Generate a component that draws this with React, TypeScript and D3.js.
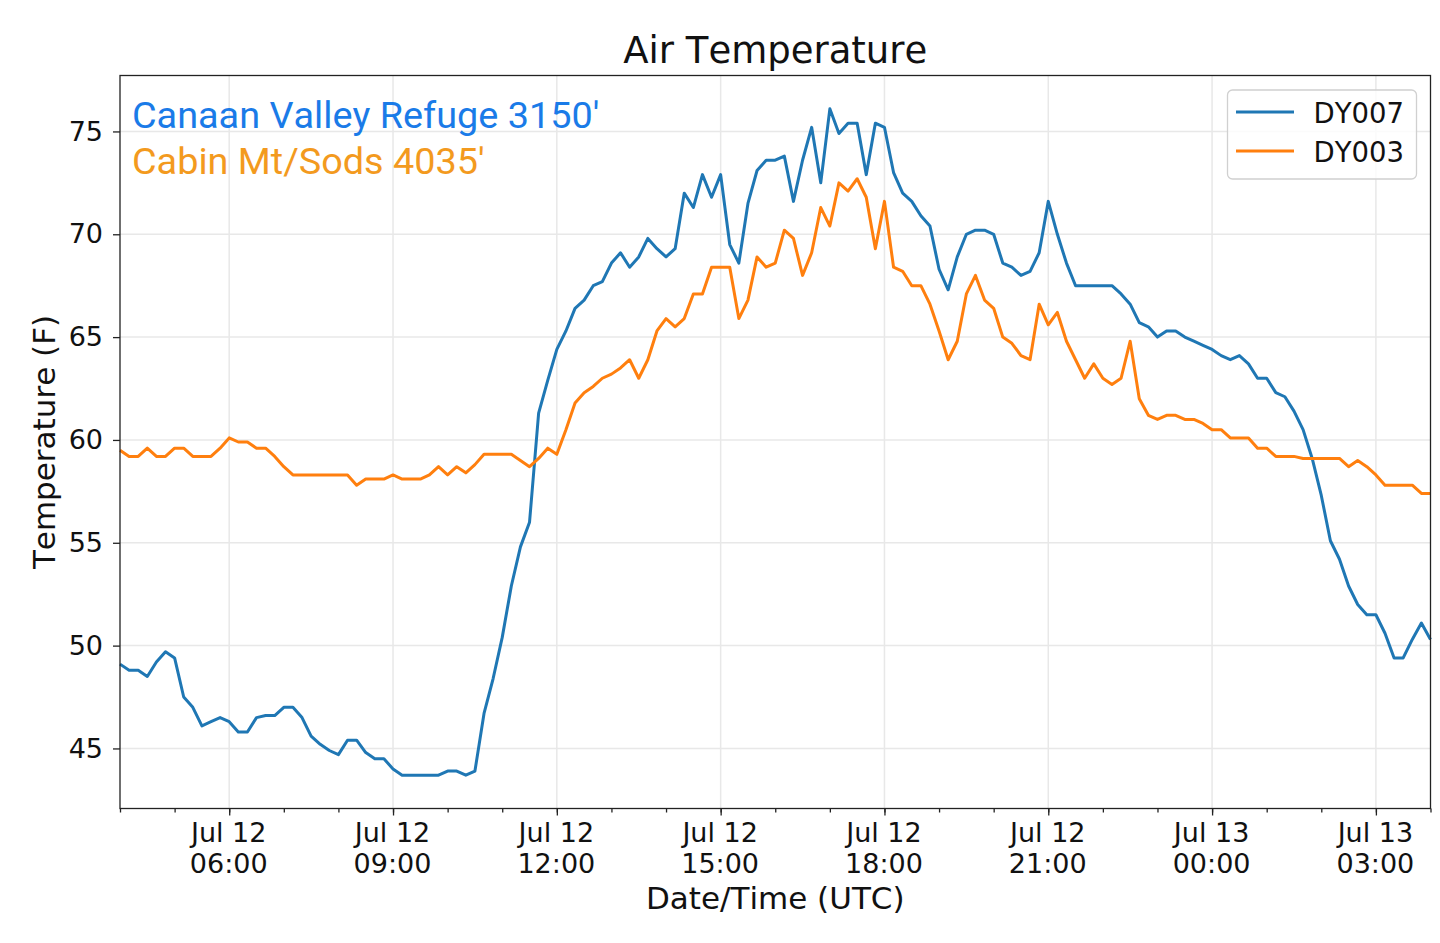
import * as d3 from 'd3';
import { useEffect, useRef } from 'react';

// readings every 10 minutes, starting Jul 12 04:00 UTC
const startTime = Date.UTC(2019, 6, 12, 4, 0);
const stepMinutes = 10;

const dy007 = [
    49.1, 48.8, 48.8, 48.5, 49.2, 49.7, 49.4, 47.5, 47.0, 46.1,
    46.3, 46.5, 46.3, 45.8, 45.8, 46.5, 46.6, 46.6, 47.0, 47.0,
    46.5, 45.6, 45.2, 44.9, 44.7, 45.4, 45.4, 44.8, 44.5, 44.5,
    44.0, 43.7, 43.7, 43.7, 43.7, 43.7, 43.9, 43.9, 43.7, 43.9,
    46.7, 48.4, 50.4, 52.9, 54.8, 56.0, 61.3, 62.9, 64.4, 65.3,
    66.4, 66.8, 67.5, 67.7, 68.6, 69.1, 68.4, 68.9, 69.8, 69.3,
    68.9, 69.3, 72.0, 71.3, 72.9, 71.8, 72.9, 69.5, 68.6, 71.5,
    73.1, 73.6, 73.6, 73.8, 71.6, 73.6, 75.2, 72.5, 76.1, 74.9,
    75.4, 75.4, 72.9, 75.4, 75.2, 73.0, 72.0, 71.6, 70.9, 70.4,
    68.3, 67.3, 68.9, 70.0, 70.2, 70.2, 70.0, 68.6, 68.4, 68.0,
    68.2, 69.1, 71.6, 70.0, 68.6, 67.5, 67.5, 67.5, 67.5, 67.5,
    67.1, 66.6, 65.7, 65.5, 65.0, 65.3, 65.3, 65.0, 64.8, 64.6,
    64.4, 64.1, 63.9, 64.1, 63.7, 63.0, 63.0, 62.3, 62.1, 61.4,
    60.5, 59.1, 57.3, 55.1, 54.2, 52.9, 52.0, 51.5, 51.5, 50.6,
    49.4, 49.4, 50.3, 51.1, 50.3,
];

const dy003 = [
    59.5, 59.2, 59.2, 59.6, 59.2, 59.2, 59.6, 59.6, 59.2, 59.2,
    59.2, 59.6, 60.1, 59.9, 59.9, 59.6, 59.6, 59.2, 58.7, 58.3,
    58.3, 58.3, 58.3, 58.3, 58.3, 58.3, 57.8, 58.1, 58.1, 58.1,
    58.3, 58.1, 58.1, 58.1, 58.3, 58.7, 58.3, 58.7, 58.4, 58.8,
    59.3, 59.3, 59.3, 59.3, 59.0, 58.7, 59.1, 59.6, 59.3, 60.5,
    61.8, 62.3, 62.6, 63.0, 63.2, 63.5, 63.9, 63.0, 63.9, 65.3,
    65.9, 65.5, 65.9, 67.1, 67.1, 68.4, 68.4, 68.4, 65.9, 66.8,
    68.9, 68.4, 68.6, 70.2, 69.8, 68.0, 69.1, 71.3, 70.4, 72.5,
    72.1, 72.7, 71.8, 69.3, 71.6, 68.4, 68.2, 67.5, 67.5, 66.6,
    65.3, 63.9, 64.8, 67.1, 68.0, 66.8, 66.4, 65.0, 64.7, 64.1,
    63.9, 66.6, 65.6, 66.2, 64.8, 63.9, 63.0, 63.7, 63.0, 62.7,
    63.0, 64.8, 62.0, 61.2, 61.0, 61.2, 61.2, 61.0, 61.0, 60.8,
    60.5, 60.5, 60.1, 60.1, 60.1, 59.6, 59.6, 59.2, 59.2, 59.2,
    59.1, 59.1, 59.1, 59.1, 59.1, 58.7, 59.0, 58.7, 58.3, 57.8,
    57.8, 57.8, 57.8, 57.4, 57.4,
];

const yTicks = [45, 50, 55, 60, 65, 70, 75];
const seriesNames = ['DY007', 'DY003'];
const seriesColors = ['#1f77b4', '#ff7f0e'];
const stationNotes = ["Canaan Valley Refuge 3150'", "Cabin Mt/Sods 4035'"];
const noteColors = ['#1a7be8', '#f39a1e'];

const FONT = 'DejaVu Sans';

const App = () => {
    const ref = useRef<SVGSVGElement>(null);

    useEffect(() => {
        const svgEl = d3.select(ref.current);
        svgEl.selectAll('*').remove();

        const W = 1440, H = 943;
        const margin = { top: 75.5, right: 9.5, bottom: 134.5, left: 120 };
        const width = W - margin.left - margin.right;
        const height = H - margin.top - margin.bottom;

        const series = [dy007, dy003].map((vals) =>
            vals.map((v, i) => ({ t: new Date(startTime + i * stepMinutes * 60000), v }))
        );

        const x: any = d3.scaleUtc()
            .domain([new Date(startTime), new Date(startTime + (dy007.length - 1) * stepMinutes * 60000)])
            .range([0, width]);

        // matplotlib style 5% margins on y
        const all = dy007.concat(dy003);
        const lo = d3.min(all) as number, hi = d3.max(all) as number;
        const pad = (hi - lo) * 0.05;
        const y: any = d3.scaleLinear().domain([lo - pad, hi + pad]).range([height, 0]);

        svgEl.append('rect').attr('width', W).attr('height', H).attr('fill', '#fff');
        svgEl.style('font-kerning', 'none');

        const svg = svgEl.append('g')
            .attr('transform', 'translate(' + margin.left + ',' + margin.top + ')');

        const majorTicks = x.ticks(d3.utcHour.every(3));
        const minorTicks = x.ticks(d3.utcHour.every(1));

        // grid
        const grid = svg.append('g').attr('stroke', '#e8e8e8').attr('stroke-width', 1.5);
        grid.selectAll('.gx').data(majorTicks).enter().append('line')
            .attr('x1', (d: any) => x(d)).attr('x2', (d: any) => x(d))
            .attr('y1', 0).attr('y2', height);
        grid.selectAll('.gy').data(yTicks).enter().append('line')
            .attr('x1', 0).attr('x2', width)
            .attr('y1', (d: any) => y(d)).attr('y2', (d: any) => y(d));

        // lines
        const line: any = d3.line<any>().x((d) => x(d.t)).y((d) => y(d.v));
        series.forEach((s, i) => {
            svg.append('path')
                .datum(s)
                .attr('fill', 'none')
                .attr('stroke', seriesColors[i])
                .attr('stroke-width', 3)
                .attr('stroke-linejoin', 'round')
                .attr('d', line);
        });

        // axes
        const fmtDay = d3.utcFormat('%b %d');
        const fmtTime = d3.utcFormat('%H:%M');

        svg.append('g')
            .attr('transform', 'translate(0,' + height + ')')
            .call(d3.axisBottom(x).tickValues(minorTicks).tickSize(4).tickFormat(() => ''))
            .call((g: any) => g.select('.domain').remove())
            .call((g: any) => g.selectAll('line').attr('stroke', '#222').attr('stroke-width', 1.3));

        const xAxis = svg.append('g')
            .attr('transform', 'translate(0,' + height + ')')
            .call(d3.axisBottom(x).tickValues(majorTicks).tickSize(7));
        xAxis.select('.domain').remove();
        xAxis.selectAll('line').attr('stroke', '#222').attr('stroke-width', 1.3);
        xAxis.selectAll('.tick text').each(function (d: any) {
            const t = d3.select(this);
            t.text(null).attr('y', null).attr('dy', null);
            t.append('tspan').attr('x', -1).attr('y', 33.5).text(fmtDay(d));
            t.append('tspan').attr('x', -1).attr('y', 64.5).text(fmtTime(d));
        });
        xAxis.selectAll('text')
            .attr('font-family', FONT).attr('font-size', 27).attr('fill', '#111');

        const yAxis = svg.append('g')
            .call(d3.axisLeft(y).tickValues(yTicks).tickSize(7).tickPadding(10));
        yAxis.select('.domain').remove();
        yAxis.selectAll('line').attr('stroke', '#222').attr('stroke-width', 1.3);
        yAxis.selectAll('text')
            .attr('font-family', FONT).attr('font-size', 27).attr('fill', '#111');

        // frame
        svg.append('rect')
            .attr('width', width).attr('height', height)
            .attr('fill', 'none').attr('stroke', '#222').attr('stroke-width', 1.3);

        // labels
        svgEl.append('text')
            .attr('x', margin.left + width / 2).attr('y', 63)
            .attr('text-anchor', 'middle')
            .attr('font-family', FONT).attr('font-size', 37).attr('fill', '#111')
            .text('Air Temperature');
        svgEl.append('text')
            .attr('x', margin.left + width / 2).attr('y', 909)
            .attr('text-anchor', 'middle')
            .attr('font-family', FONT).attr('font-size', 31).attr('fill', '#111')
            .text('Date/Time (UTC)');
        svgEl.append('text')
            .attr('transform', 'translate(55,' + (margin.top + height / 2) + ')rotate(-90)')
            .attr('text-anchor', 'middle')
            .attr('font-family', FONT).attr('font-size', 31).attr('fill', '#111')
            .text('Temperature (F)');

        // station notes
        stationNotes.forEach((s, i) => {
            svgEl.append('text')
                .attr('x', 132).attr('y', 128 + i * 46)
                .attr('font-family', 'Roboto').attr('font-size', 37.8)
                .attr('fill', noteColors[i])
                .text(s);
        });

        // legend
        const lg = svgEl.append('g').attr('transform', 'translate(1227.5,90)');
        lg.append('rect')
            .attr('width', 189).attr('height', 89).attr('rx', 5)
            .attr('fill', '#fff').attr('fill-opacity', 0.8)
            .attr('stroke', '#d0d0d0').attr('stroke-width', 1.3);
        seriesNames.forEach((n, i) => {
            lg.append('line')
                .attr('x1', 8.5).attr('x2', 66.5)
                .attr('y1', 22 + i * 39).attr('y2', 22 + i * 39)
                .attr('stroke', seriesColors[i]).attr('stroke-width', 3);
            lg.append('text')
                .attr('x', 86).attr('y', 33 + i * 39)
                .attr('font-family', FONT).attr('font-size', 27.5).attr('fill', '#111')
                .text(n);
        });
    }, []);

    return (
        <svg ref={ref} width={1440} height={943}
            style={{ position: 'absolute', left: 0, top: 0 }} />
    );
};

export default App;
